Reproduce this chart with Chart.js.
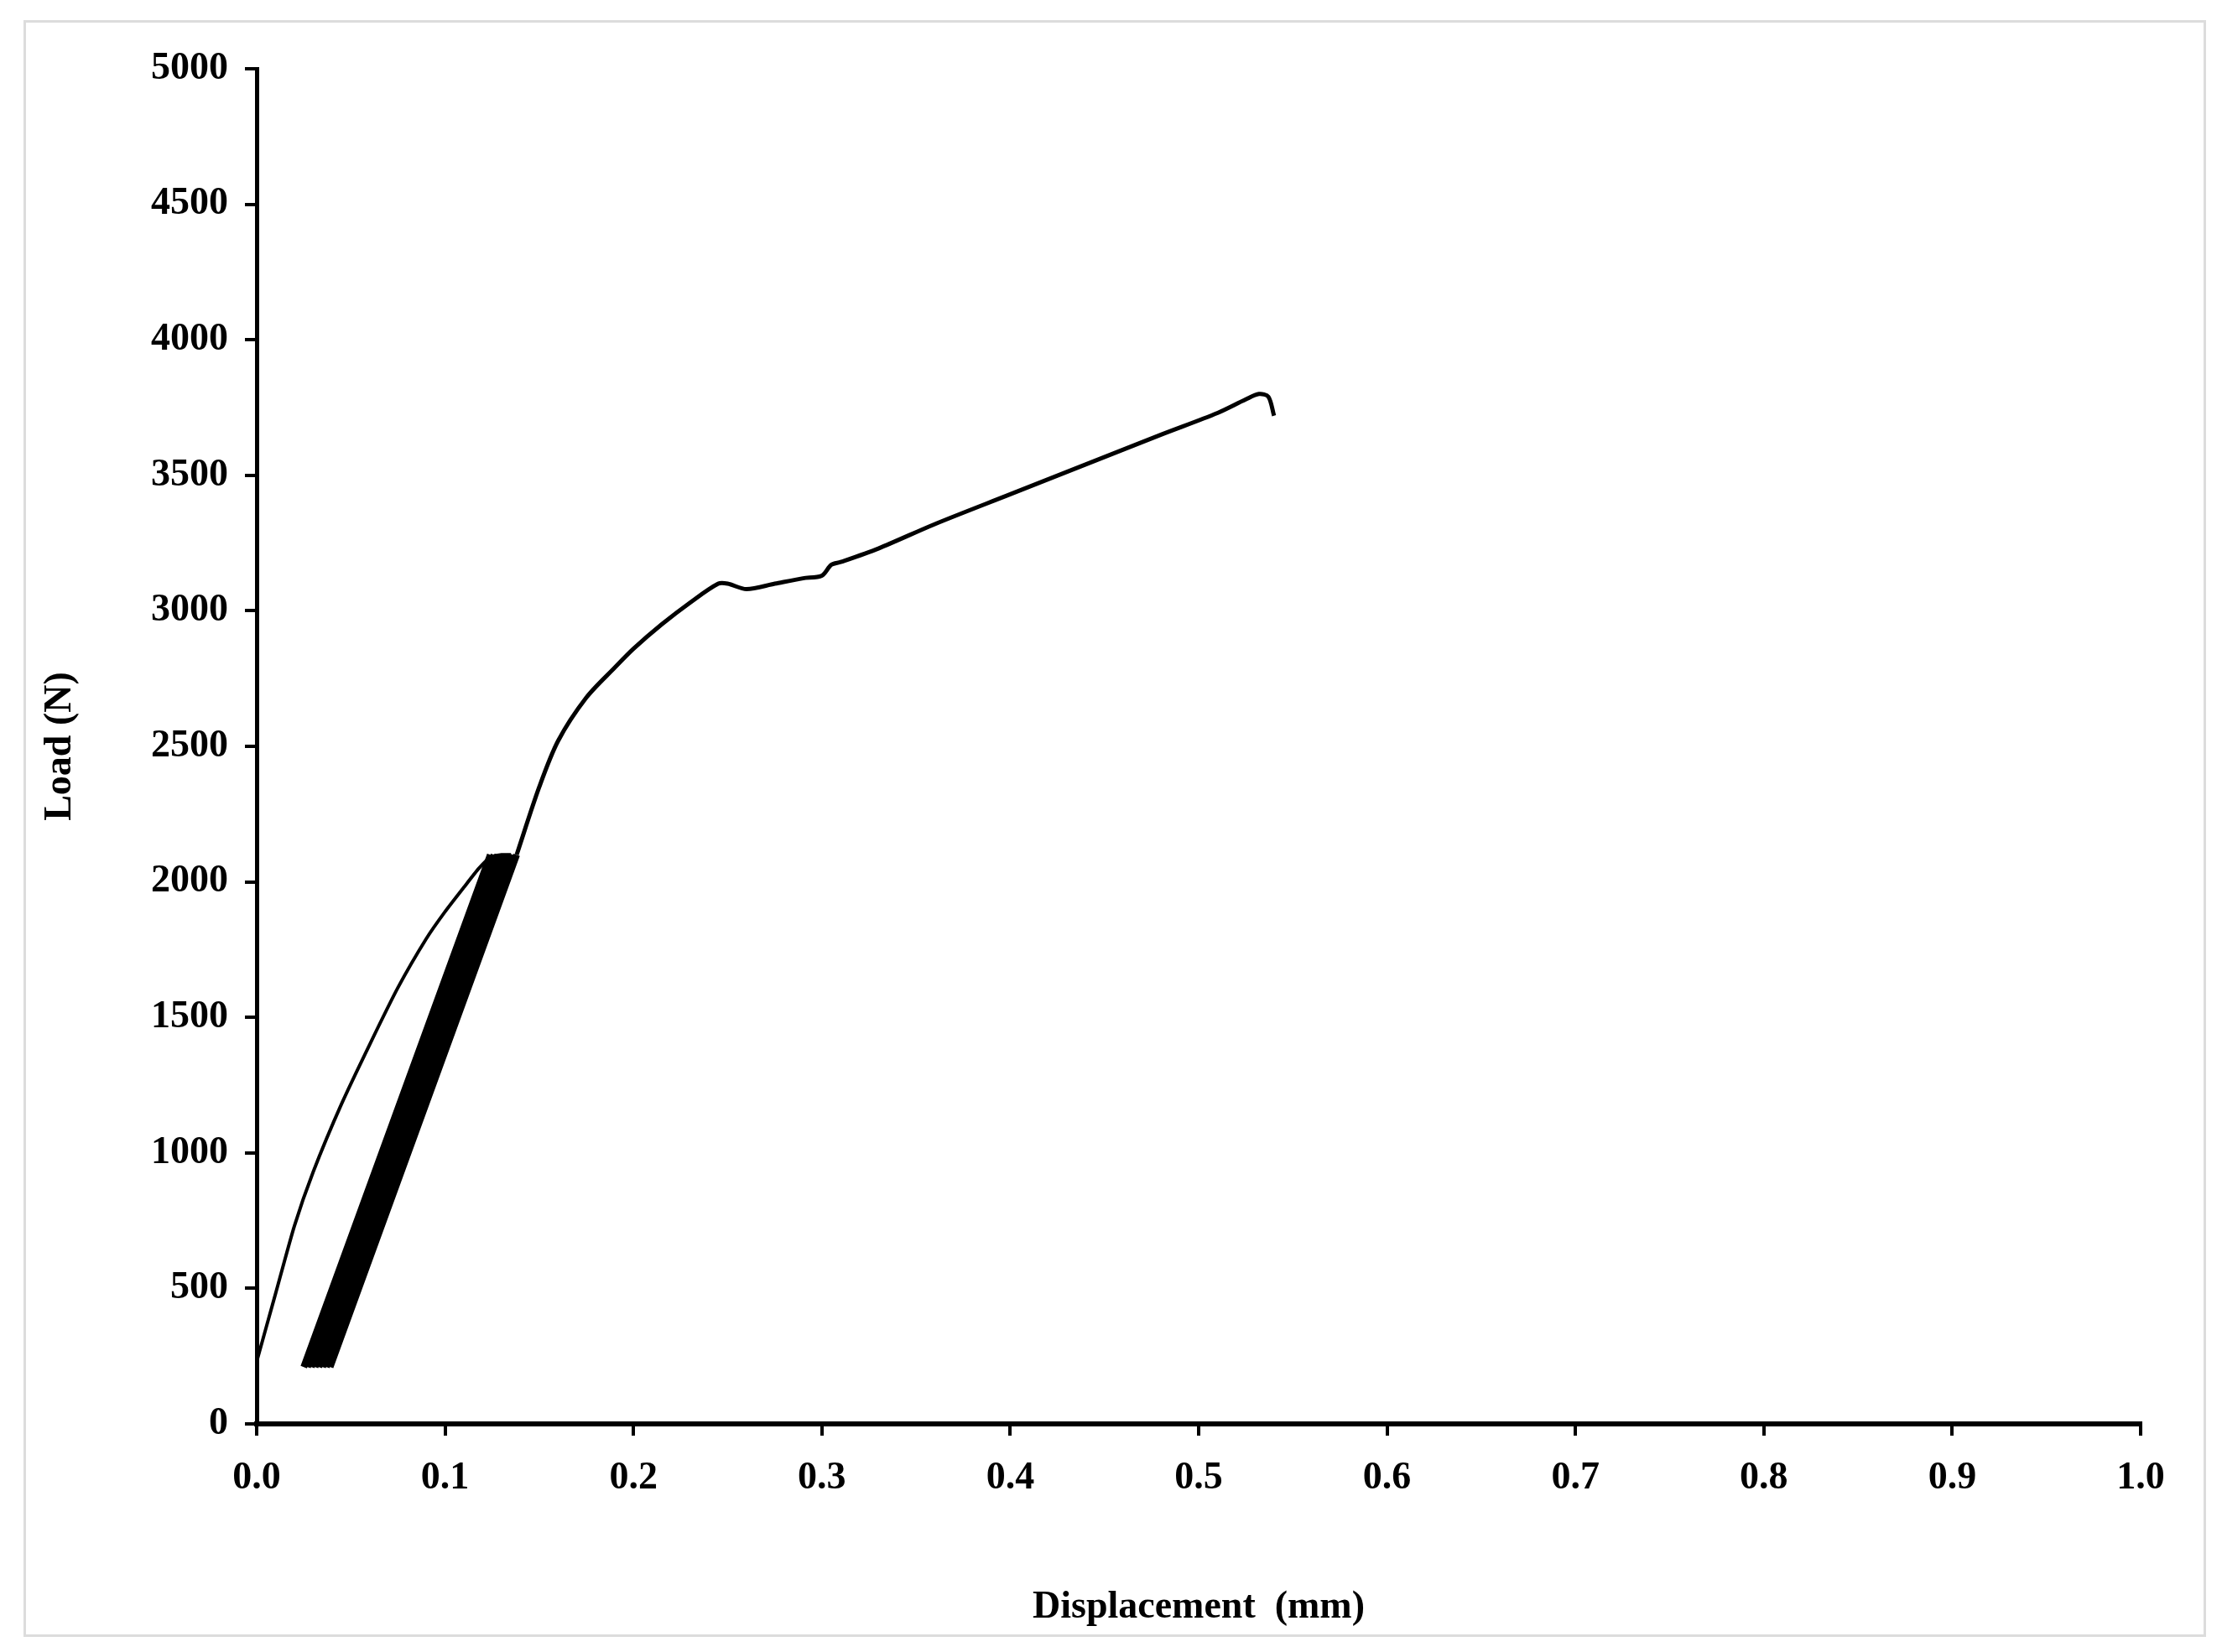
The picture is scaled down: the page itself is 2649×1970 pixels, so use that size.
<!DOCTYPE html>
<html>
<head>
<meta charset="utf-8">
<script src="https://cdn.jsdelivr.net/npm/chart.js@4/dist/chart.umd.min.js"></script>
<style>
html,body{margin:0;padding:0;background:#fff;}
#wrap{position:relative;width:2649px;height:1970px;}
#frame{position:absolute;left:28px;top:24px;width:2602px;height:1928px;border:3px solid #dcdcdc;box-sizing:border-box;pointer-events:none;}
</style>
</head>
<body>
<div id="wrap">
<canvas id="loadChart" width="2649" height="1970"></canvas>
<div id="frame"></div>
</div>
<script>
// initial loading
const loadX = [0.0, 0.01, 0.02, 0.03, 0.045, 0.06, 0.075, 0.09, 0.1, 0.11, 0.118, 0.124, 0.13, 0.135];
const loadY = [230, 480, 730, 930, 1180, 1400, 1610, 1790, 1890, 1980, 2050, 2090, 2100, 2100];

// unloading / reloading cycles (bottom / top)
const cycleX = [0.135, 0.025, 0.124, 0.027, 0.126, 0.029, 0.128, 0.031, 0.13, 0.033, 0.132, 0.035, 0.134, 0.037, 0.136, 0.039, 0.138];
const cycleY = [2100, 210, 2100, 210, 2100, 210, 2100, 210, 2100, 210, 2100, 210, 2100, 210, 2100, 210, 2100];

// post-cycle loading up to failure
const mainX = [0.138, 0.15, 0.16, 0.175, 0.19, 0.2, 0.215, 0.23, 0.245, 0.25, 0.26, 0.275, 0.29, 0.3, 0.305, 0.31, 0.33, 0.36, 0.4, 0.44, 0.48, 0.51, 0.525, 0.532, 0.537, 0.54];
const mainY = [2100, 2350, 2520, 2680, 2790, 2860, 2950, 3030, 3100, 3100, 3080, 3100, 3120, 3130, 3170, 3180, 3230, 3320, 3430, 3540, 3650, 3730, 3780, 3800, 3790, 3720];

const xTicks = [0.0, 0.1, 0.2, 0.3, 0.4, 0.5, 0.6, 0.7, 0.8, 0.9, 1.0];
const yTicks = [0, 500, 1000, 1500, 2000, 2500, 3000, 3500, 4000, 4500, 5000];

const pts = (xs, ys) => xs.map((x, i) => ({x: x, y: ys[i]}));
const tickFont = {family: 'Liberation Serif', size: 46, weight: 'bold'};
const titleFont = {family: 'Liberation Serif', size: 46, weight: 'bold'};

new Chart(document.getElementById('loadChart'), {
    type: 'scatter',
    data: {
        datasets: [
            {data: pts(loadX, loadY), showLine: true, borderColor: '#000', borderWidth: 4, pointRadius: 0, tension: 0.2},
            {data: pts(cycleX, cycleY), showLine: true, borderColor: '#000', borderWidth: 8, pointRadius: 0},
            {data: pts(mainX, mainY), showLine: true, borderColor: '#000', borderWidth: 5, pointRadius: 0, tension: 0.3}
        ]
    },
    options: {
        responsive: false,
        animation: false,
        layout: {padding: {left: 0, top: 82, right: 97, bottom: 0}},
        plugins: {legend: {display: false}, tooltip: {enabled: false}},
        scales: {
            x: {
                type: 'linear', min: 0, max: 1,
                afterBuildTicks: s => { s.ticks = xTicks.map(v => ({value: v})); },
                afterFit: s => { s.height = 272; },
                border: {color: '#000', width: 6},
                grid: {drawOnChartArea: false, drawTicks: true, tickLength: 14, color: '#000', lineWidth: 4},
                ticks: {color: '#000', font: tickFont, padding: 24, maxRotation: 0, callback: v => v.toFixed(1)},
                title: {display: true, text: 'Displacement  (mm)', color: '#000', font: titleFont, padding: {top: 60, bottom: 25}}
            },
            y: {
                type: 'linear', min: 0, max: 5000,
                afterBuildTicks: s => { s.ticks = yTicks.map(v => ({value: v})); },
                afterFit: s => { s.width = 306; },
                border: {color: '#000', width: 5},
                grid: {drawOnChartArea: false, drawTicks: true, tickLength: 14, color: '#000', lineWidth: 4},
                ticks: {color: '#000', font: tickFont, padding: 20, callback: v => String(v)},
                title: {display: true, text: 'Load (N)', color: '#000', font: titleFont, padding: {top: 45, bottom: 20}}
            }
        }
    }
});
</script>
</body>
</html>
